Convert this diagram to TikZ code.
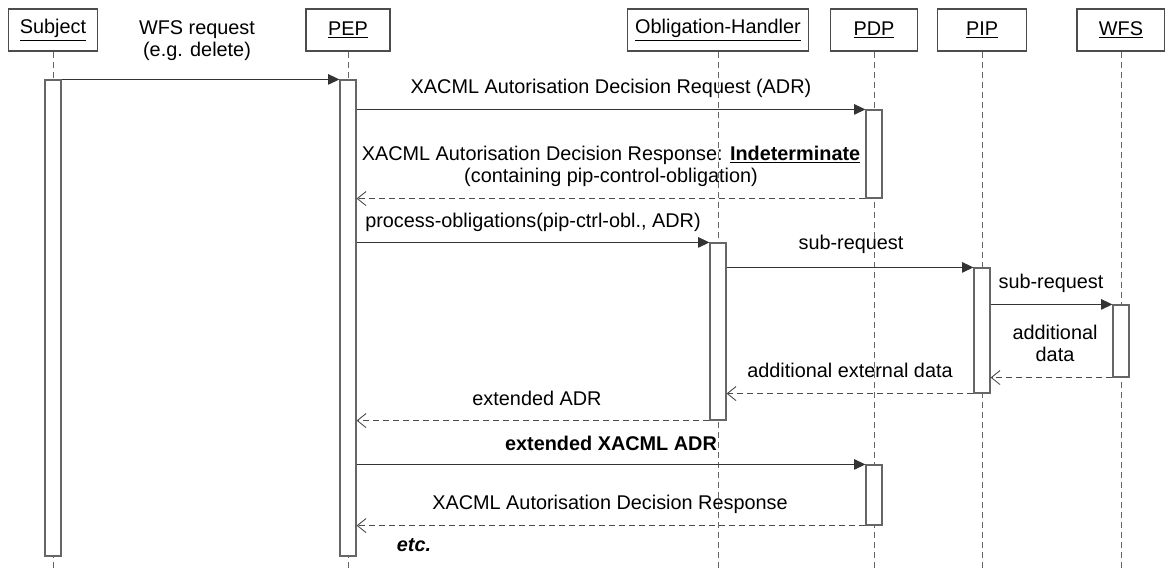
\documentclass[tikz,border=0pt]{standalone}
\usepackage{fontspec}
\setmainfont{Liberation Sans}
\usetikzlibrary{arrows.meta,fit}

\begin{document}
\begin{tikzpicture}[x=0.02cm,y=-0.02cm,
        every node/.style={font=\fontsize{11.3}{12.6}\selectfont},
        head/.style={draw=black!70,line width=0.65pt,minimum height=0.84cm,inner sep=0pt},
        life/.style={draw=black!60,dash pattern=on 3.4pt off 2.3pt,line width=0.5pt},
        act/.style={draw=black!60,fill=white,line width=0.65pt,inner sep=0pt},
        call/.style={draw=black!80,line width=0.6pt,-{Triangle[length=6.5pt,width=6pt]}},
        reply/.style={draw=black!70,dash pattern=on 3.4pt off 2.3pt,line width=0.5pt,-{Straight Barb[length=5pt,width=8pt]}},
        lbl/.style={align=center,inner sep=0pt}]
        \useasboundingbox (0,0) rectangle (1165,570);

        \node[head,minimum width=1.78cm] (subj) at (53,30) {\underline{Subject}};
        \node[head,minimum width=1.68cm] (pep) at (348,30) {\underline{PEP}};
        \node[head,minimum width=3.62cm] (oh) at (718,30) {\underline{Obligation-Handler}};
        \node[head,minimum width=1.74cm] (pdp) at (874,30) {\underline{PDP}};
        \node[head,minimum width=1.78cm] (pip) at (982,30) {\underline{PIP}};
        \node[head,minimum width=1.76cm] (wfs) at (1121,30) {\underline{WFS}};

        \coordinate (bottom) at (0,570);
        \foreach \n in {subj,pep,oh,pdp,pip,wfs}
            \draw[life] (\n.south) -- (\n.south |- bottom);

        \node[act,fit={(45,80) (61,556)}] (subjact) {};
        \node[act,fit={(340,80) (356,556)}] (pepact) {};
        \node[act,fit={(866,110) (882,198)}] (pdpact1) {};
        \node[act,fit={(710,243) (726,420)}] (ohact) {};
        \node[act,fit={(974,268) (990,393)}] (pipact) {};
        \node[act,fit={(1113,305) (1129,377)}] (wfsact) {};
        \node[act,fit={(866,465) (882,525)}] (pdpact2) {};

        \draw[call] (subjact.north east) -- (pepact.north west);
        \draw[call] (pepact.east |- pdpact1.north) -- (pdpact1.north west);
        \draw[reply] (pdpact1.south west) -- (pepact.east |- pdpact1.south);
        \draw[call] (pepact.east |- ohact.north) -- (ohact.north west);
        \draw[call] (ohact.east |- pipact.north) -- (pipact.north west);
        \draw[call] (pipact.east |- wfsact.north) -- (wfsact.north west);
        \draw[reply] (wfsact.south west) -- (pipact.east |- wfsact.south);
        \draw[reply] (pipact.south west) -- (ohact.east |- pipact.south);
        \draw[reply] (ohact.south west) -- (pepact.east |- ohact.south);
        \draw[call] (pepact.east |- pdpact2.north) -- (pdpact2.north west);
        \draw[reply] (pdpact2.south west) -- (pepact.east |- pdpact2.south);

        \node[lbl] (wfsreq) at (197,41) {WFS request\\(e.g. delete)};
        \node[lbl] (adrreq) at (611,88) {XACML Autorisation Decision Request (ADR)};
        \node[lbl] (adrresp) at (611,166) {XACML Autorisation Decision Response: \textbf{\underline{Indeterminate}}\\(containing pip-control-obligation)};
        \node[lbl] (procobl) at (533,222) {process-obligations(pip-ctrl-obl., ADR)};
        \node[lbl] (subreq) at (851,244) {sub-request};
        \node[lbl] (subreqwfs) at (1051,283) {sub-request};
        \node[lbl] (adddata) at (1055,343) {additional\\data};
        \node[lbl] (extdata) at (850,370) {additional external data};
        \node[lbl] (extadr) at (537,398) {extended ADR};
        \node[lbl] (extxadr) at (611,443) {\textbf{extended XACML ADR}};
        \node[lbl] (adrresp2) at (610,504) {XACML Autorisation Decision Response};
        \node[lbl] (etc) at (414,545) {\textbf{\textit{etc.}}};
    \end{tikzpicture}
\end{document}
